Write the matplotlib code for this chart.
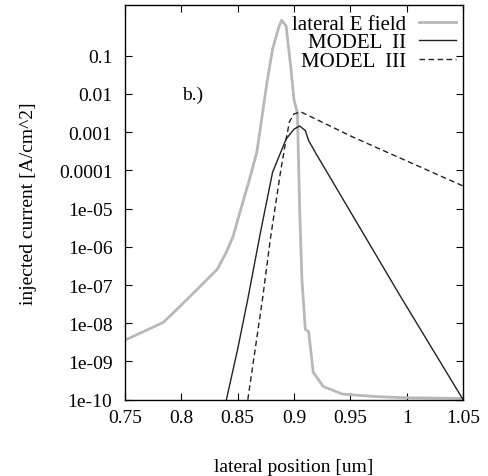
import matplotlib
matplotlib.use("Agg")
import matplotlib.pyplot as plt

plt.rcParams['font.family'] = ['Liberation Serif', 'DejaVu Serif']

# lateral E field (grey curve)
efield_x = [0.750, 0.784, 0.799, 0.817, 0.832, 0.840, 0.846, 0.852, 0.861, 0.867, 0.870,
            0.876, 0.881, 0.886, 0.889, 0.893, 0.897, 0.900, 0.903, 0.905, 0.907,
            0.910, 0.913, 0.917, 0.926, 0.943, 0.974, 1.000, 1.050]
efield_y = [3.6e-9, 1.05e-8, 2.8e-8, 9.4e-8, 2.6e-7, 7.3e-7, 1.9e-6, 8e-6, 6.6e-5, 3e-4, 1.2e-3,
            2e-2, 0.15, 0.5, 0.85, 0.6, 0.054, 7e-3, 3.2e-3, 1e-5, 1.4e-7,
            7e-9, 6e-9, 5.2e-10, 2.2e-10, 1.4e-10, 1.2e-10, 1.12e-10, 1.08e-10]

# MODEL II (solid)
m2_x = [0.840, 0.850, 0.859, 0.870, 0.881, 0.893, 0.900, 0.905, 0.910, 0.913, 0.920, 0.994, 1.050]
m2_y = [1e-10, 2.1e-9, 4.3e-8, 2.2e-6, 9e-5, 6.6e-4, 1.2e-3, 1.45e-3, 1.1e-3, 6e-4, 2.6e-4, 5.3e-8, 1e-10]

# MODEL III (dashed)
m3_x = [0.859, 0.872, 0.879, 0.888, 0.893, 0.896, 0.900, 0.906, 0.952, 1.050]
m3_y = [1e-10, 4.2e-8, 1.6e-6, 9e-5, 6.6e-4, 1.9e-3, 3e-3, 3.4e-3, 7.5e-4, 3.9e-5]

xticks = [0.75, 0.8, 0.85, 0.9, 0.95, 1.0, 1.05]
xtick_labels = ['0.75', '0.8', '0.85', '0.9', '0.95', '1', '1.05']
yticks = [1e-10, 1e-9, 1e-8, 1e-7, 1e-6, 1e-5, 1e-4, 1e-3, 1e-2, 1e-1]
ytick_labels = ['1e-10', '1e-09', '1e-08', '1e-07', '1e-06', '1e-05',
                '0.0001', '0.001', '0.01', '0.1']

fig = plt.figure(figsize=(4.88, 4.77), dpi=100)
ax = fig.add_axes([0.256, 0.160, 0.693, 0.827])

ax.plot(efield_x, efield_y, color='#b8b8b8', lw=2.0, label='lateral E field')
ax.plot(m2_x, m2_y, color='#222222', lw=1.0, label='MODEL  II')
ax.plot(m3_x, m3_y, color='#222222', lw=1.0, ls=(0, (4, 2.5)), label='MODEL  III')

ax.set_yscale('log')
ax.set_xlim(0.75, 1.05)
ax.set_ylim(1e-10, 2.1)
ax.set_xticks(xticks, xtick_labels)
ax.set_yticks(yticks, ytick_labels)
ax.minorticks_off()
ax.tick_params(direction='in', top=True, right=True, length=5, width=0.8, labelsize=14)
ax.tick_params(axis='x', pad=7)
ax.tick_params(axis='y', pad=9)
for s in ax.spines.values():
    s.set_linewidth(1.0)

ax.set_xlabel('lateral position [um]', fontsize=14, labelpad=23)
ax.set_ylabel('injected current [A/cm^2]', fontsize=14, labelpad=16)

ax.text(0.169, 0.775, 'b.)', transform=ax.transAxes, fontsize=14, va='center')

ax.legend(loc='upper right', bbox_to_anchor=(0.98, 0.977), frameon=False,
          markerfirst=False, fontsize=15, handlelength=1.8, handletextpad=0.6,
          labelspacing=-0.05, borderpad=0, borderaxespad=0)

fig.savefig('out.png', dpi=100)
